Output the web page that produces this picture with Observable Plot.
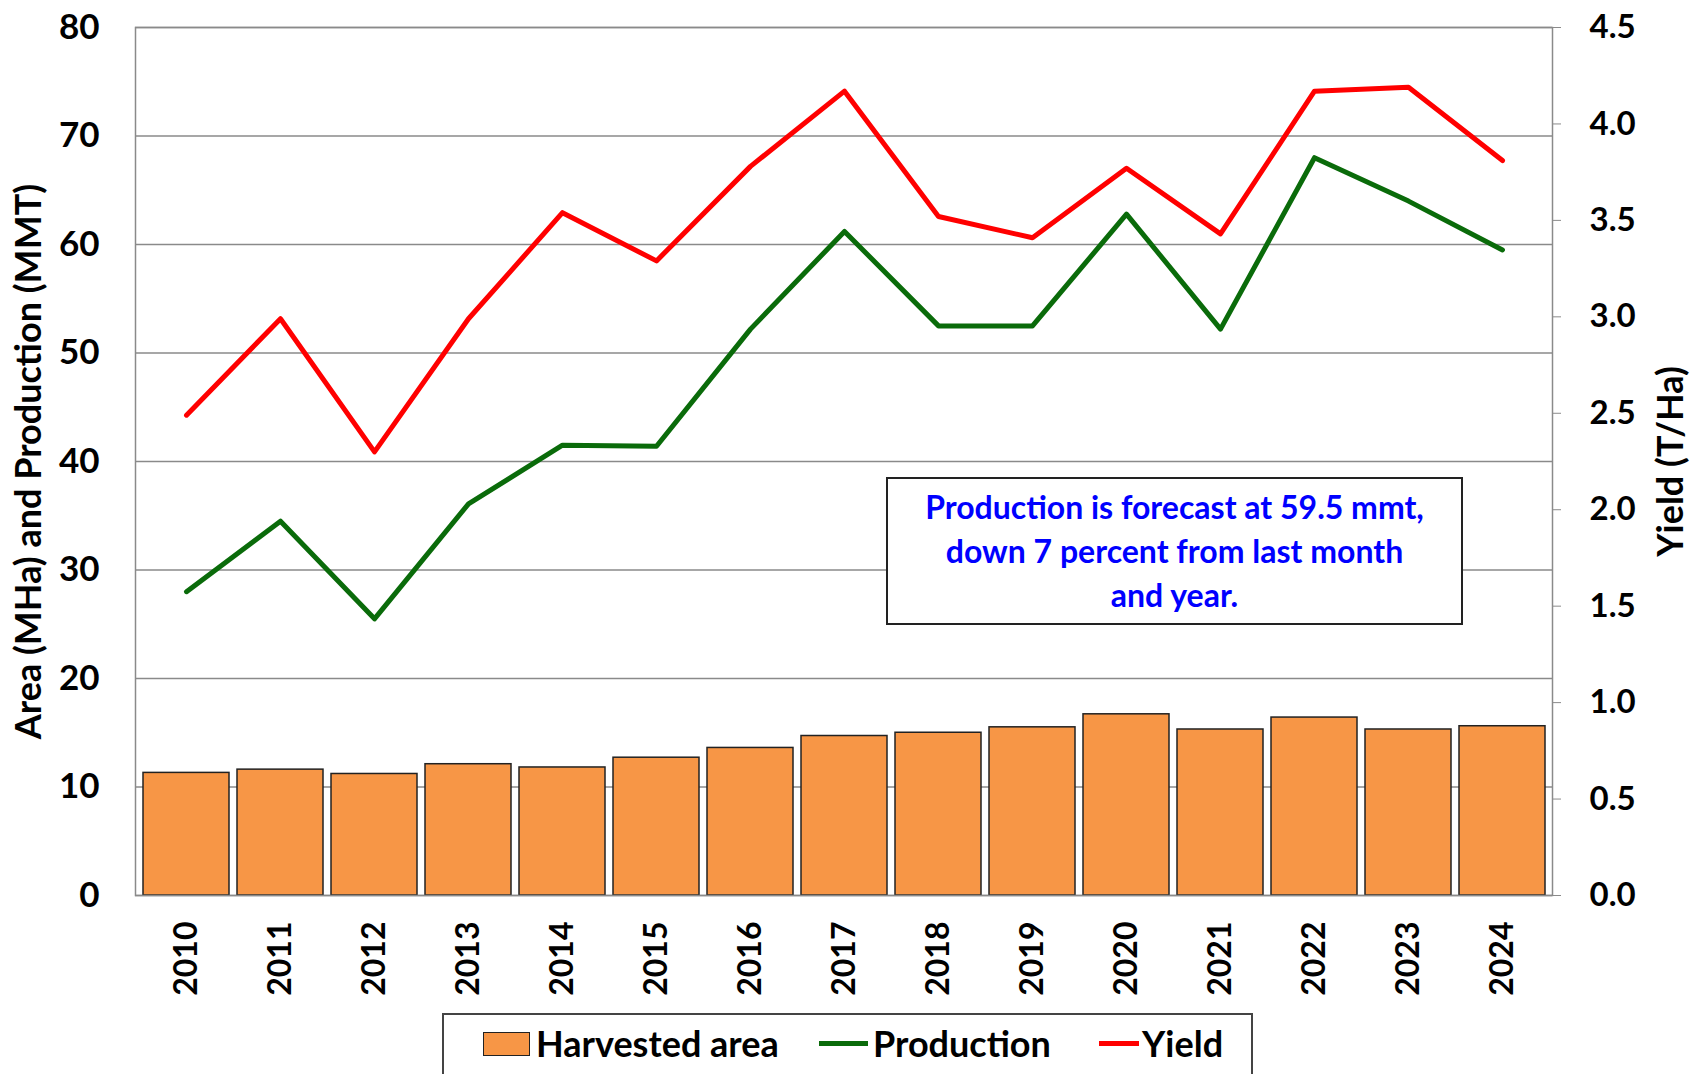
<!DOCTYPE html>
<html><head><meta charset="utf-8">
<script src="https://cdn.jsdelivr.net/npm/d3@7"></script>
<script src="https://cdn.jsdelivr.net/npm/@observablehq/plot@0.6"></script>
<style>
html,body{margin:0;padding:0;background:#fff;overflow:hidden;}
#wrap{position:relative;width:1690px;height:1074px;font-family:Lato,"Open Sans",sans-serif;font-weight:bold;}
#chart svg{display:block;}
#note{position:absolute;left:886px;top:477px;width:577px;height:148px;box-sizing:border-box;border:2px solid #222;background:#fff;color:#0000ff;font-size:32px;line-height:44px;text-align:center;padding-top:6px;}
#legend{position:absolute;left:442px;top:1013px;width:811px;height:80px;box-sizing:border-box;border:2px solid #444;border-bottom:none;background:#fff;}
.sw{position:absolute;box-sizing:border-box;}
.lt{position:absolute;font-size:36px;line-height:44px;color:#000;top:1021px;white-space:nowrap;}
</style></head><body>
<div id="wrap">
<div id="chart"></div>
<div id="note">Production is forecast at 59.5 mmt,<br>down 7 percent from last month<br>and year.</div>
<div id="legend"></div>
<div class="sw" style="left:483px;top:1032px;width:47px;height:24px;background:#F79646;border:1.5px solid #222;"></div>
<div class="lt" style="left:536px;">Harvested area</div>
<div class="sw" style="left:819px;top:1041px;width:49px;height:5px;background:#0a6b0a;"></div>
<div class="lt" style="left:873px;">Production</div>
<div class="sw" style="left:1099px;top:1041px;width:40px;height:5px;background:#ff0000;"></div>
<div class="lt" style="left:1142px;">Yield</div>
</div>
<script>
const years = ["2010","2011","2012","2013","2014","2015","2016","2017","2018","2019","2020","2021","2022","2023","2024"];
const harvestedArea = [11.3,11.6,11.2,12.1,11.8,12.7,13.6,14.7,15.0,15.5,16.7,15.3,16.4,15.3,15.6];
const production = [28.0,34.5,25.5,36.1,41.5,41.4,52.2,61.2,52.5,52.5,62.8,52.2,68.0,64.0,59.5];
const yieldValues = [2.49,2.99,2.30,2.99,3.54,3.29,3.78,4.17,3.52,3.41,3.77,3.43,4.17,4.19,3.81];
const leftTicks = [0,10,20,30,40,50,60,70,80];
const rightTicks = [0,0.5,1.0,1.5,2.0,2.5,3.0,3.5,4.0,4.5];
const leftMax = 80, rightMax = 4.5;
const toLeft = v => v * leftMax / rightMax;

const rows = years.map((year, i) => ({year, area: harvestedArea[i], production: production[i], yld: yieldValues[i]}));

const chart = Plot.plot({
  width: 1690,
  height: 1010,
  marginTop: 27,
  marginBottom: 115,
  marginLeft: 135,
  marginRight: 138,
  style: {fontFamily: "Lato, 'Open Sans', sans-serif", fontWeight: "bold", background: "#fff", color: "#000"},
  x: {type: "band", domain: years, paddingInner: 0.09, paddingOuter: 0.02, label: null},
  y: {domain: [0, leftMax], label: null},
  marks: [
    Plot.gridY(leftTicks, {stroke: "#8a8a8a", strokeOpacity: 1, strokeWidth: 1.5}),
    Plot.barY(rows, {x: "year", y: "area", fill: "#F79646", stroke: "#222", strokeWidth: 1.5}),
    Plot.frame({stroke: "#8a8a8a", strokeWidth: 1.5}),
    Plot.lineY(rows, {x: "year", y: "production", stroke: "#0a6b0a", strokeWidth: 5}),
    Plot.lineY(rows, {x: "year", y: d => toLeft(d.yld), stroke: "#ff0000", strokeWidth: 5}),
    Plot.axisY(leftTicks, {anchor: "left", tickSize: 0, tickPadding: 36, fontSize: 35, fontWeight: "bold", fill: "#000"}),
    Plot.axisY(rightTicks.map(toLeft), {anchor: "right", tickSize: 8, tickPadding: 29, stroke: "#8a8a8a", fill: "#000", fontSize: 33, fontWeight: "bold", tickFormat: d => (d * rightMax / leftMax).toFixed(1)}),
    Plot.axisX({tickSize: 0, tickRotate: -90, tickPadding: 26, fontSize: 32, fontWeight: "bold", fill: "#000"}),
    Plot.text(["Area (MHa) and Production (MMT)"], {frameAnchor: "left", textAnchor: "middle", rotate: -90, dx: -106, fontSize: 36, fontWeight: "bold", fill: "#000"}),
    Plot.text(["Yield (T/Ha)"], {frameAnchor: "right", textAnchor: "middle", rotate: -90, dx: 119, fontSize: 36, fontWeight: "bold", fill: "#000"})
  ]
});
document.getElementById("chart").appendChild(chart);
</script>
</body></html>
